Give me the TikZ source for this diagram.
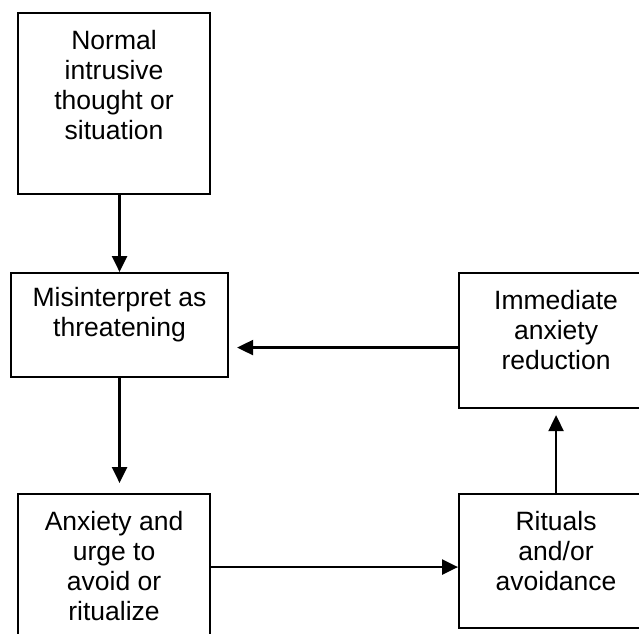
\documentclass[tikz,border=0pt]{standalone}
\usepackage{fontspec}
\setmainfont{Liberation Sans}
\usetikzlibrary{arrows.meta, positioning, calc}
\tikzset{
    box/.style={draw, line width=2.1pt, anchor=north west, inner sep=0pt, minimum width=192pt},
    boxtext/.style={anchor=north, yshift=-18pt, inner sep=0pt, align=center, font=\fontsize{26.5}{30}\selectfont},
    arr/.style={-{Triangle[length=16pt, width=15pt]}, line width=2.3pt}
}

\begin{document}
\begin{tikzpicture}[x=1pt, y=-1pt]
    \useasboundingbox (0,0) rectangle (639,633);
    \clip (0,0) rectangle (639,633);

    % Left column
    \node[box, minimum height=181pt] (normal) at (17,12) {};
    \node[boxtext] (normaltxt) at (normal.north) {Normal\\intrusive\\thought or\\situation};

    \node[box, minimum width=217pt, minimum height=104pt] (misinterp) at (10,272) {};
    \node[boxtext, yshift=3pt] (misinterptxt) at (misinterp.north) {Misinterpret as\\threatening};

    \node[box, minimum height=181pt] (anxiety) at (17,493) {};
    \node[boxtext] (anxietytxt) at (anxiety.north) {Anxiety and\\urge to\\avoid or\\ritualize};

    % Right column
    \node[box, minimum width=194pt, minimum height=135pt] (immediate) at (458,272) {};
    \node[boxtext] (immediatetxt) at (immediate.north) {Immediate\\anxiety\\reduction};

    \node[box, minimum width=194pt, minimum height=134pt] (rituals) at (458,493) {};
    \node[boxtext] (ritualstxt) at (rituals.north) {Rituals\\and/or\\avoidance};

    % Connectors
    \coordinate (ritin) at ([yshift=-6pt]rituals.west);
    \coordinate (loopin) at ([yshift=-7pt]immediate.west);

    \draw[arr] (misinterp.north |- normal.south) -- (misinterp.north);
    \draw[arr, shorten >=10pt] (misinterp.south) -- (misinterp.south |- anxiety.north);
    \draw[arr] (ritin -| anxiety.east) -- (ritin);
    \draw[arr, shorten >=6pt] (rituals.north) -- (rituals.north |- immediate.south);
    \draw[arr, shorten >=8pt] (loopin) -- (loopin -| misinterp.east);
\end{tikzpicture}
\end{document}
